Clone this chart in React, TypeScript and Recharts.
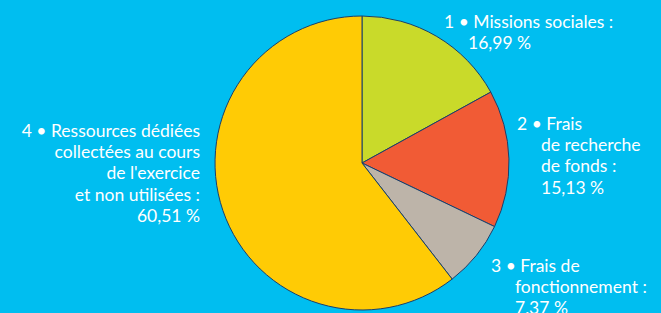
import { Pie, PieChart, Cell } from 'recharts'

// répartition des emplois (en %)
const categories = [
    'Missions sociales',
    'Frais de recherche de fonds',
    'Frais de fonctionnement',
    "Ressources dédiées collectées au cours de l'exercice et non utilisées",
]
const values = [16.99, 15.13, 7.37, 60.51]
const labelLines = [
    ['1 • Missions sociales :'],
    ['2 • Frais', 'de recherche', 'de fonds :'],
    ['3 • Frais de', 'fonctionnement :'],
    ['4 • Ressources dédiées', 'collectées au cours', "de l'exercice", 'et non utilisées :'],
]
const colors = ['#C9DA2A', '#F15B35', '#BDB4A9', '#FFCB05']

// where each label block sits, relative to the pie centre
const labelLayout = [
    { dx: 82, dy: -142, anchor: 'start' },
    { dx: 155, dy: -40, anchor: 'start' },
    { dx: 129, dy: 102, anchor: 'start' },
    { dx: -162, dy: -33, anchor: 'end' },
]

const data = categories.map((name, i) => ({ name, value: values[i] }))

const fmt = (v: number) => v.toFixed(2).replace('.', ',') + ' %'

const renderLabel = (props: any) => {
    const { cx, cy, index, value } = props
    const pos = labelLayout[index]
    const x = cx + pos.dx
    const y = cy + pos.dy
    const lines = [...labelLines[index], fmt(value)]
    const indent = pos.anchor === 'start' ? 24 : 0
    return (
        <text
            key={'lbl' + index}
            x={x}
            y={y}
            fill="#ffffff"
            fontSize={17.5}
            fontFamily="Lato, sans-serif"
            textAnchor={pos.anchor}
            dominantBaseline="central"
        >
            {lines.map((l, i) => (
                <tspan key={i} x={i === 0 ? x : x + indent} y={y + i * 21.2}>
                    {l}
                </tspan>
            ))}
        </text>
    )
}

export default function App() {
    return (
        <div style={{ position: 'absolute', left: 0, top: 0, width: 661, height: 313, background: '#00BEF0' }}>
            <PieChart width={661} height={313} margin={{ top: 0, right: 0, bottom: 0, left: 0 }}>
                <Pie
                    data={data}
                    dataKey="value"
                    nameKey="name"
                    cx={362}
                    cy={163}
                    outerRadius={147}
                    startAngle={90}
                    endAngle={-270}
                    stroke="#1B3F6B"
                    strokeWidth={1}
                    label={renderLabel}
                    labelLine={false}
                    isAnimationActive={false}
                >
                    {data.map((d, i) => (
                        <Cell key={d.name} fill={colors[i]} />
                    ))}
                </Pie>
            </PieChart>
        </div>
    )
}
